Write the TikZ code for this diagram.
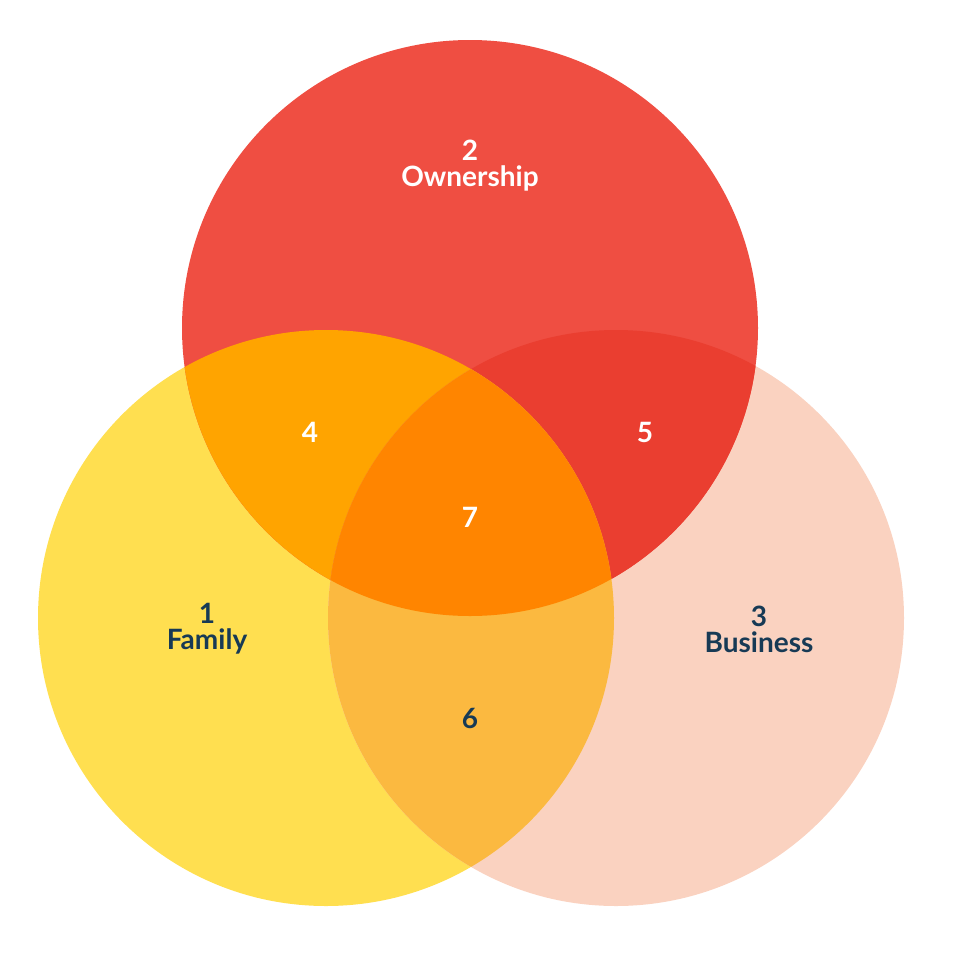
\documentclass[tikz,border=0pt]{standalone}
\usepackage{fontspec}
\setmainfont{Lato}
\definecolor{own}{HTML}{EF4E42}
\definecolor{fam}{HTML}{FFDF50}
\definecolor{bus}{HTML}{FAD2C0}
\definecolor{fo}{HTML}{FFA400}
\definecolor{ob}{HTML}{EA3E30}
\definecolor{fb}{HTML}{FBB940}
\definecolor{all}{HTML}{FF8500}
\definecolor{navy}{HTML}{173A55}
\begin{document}
\begin{tikzpicture}[x=1pt,y=-1pt,
  lbl/.style={font=\fontsize{28}{30}\selectfont\bfseries,align=center,text=white},
  dlbl/.style={lbl,text=navy}]
\useasboundingbox (0,0) rectangle (960,970);
\def\r{288}
\coordinate (O) at (470,328);
\coordinate (F) at (326,618);
\coordinate (B) at (616,618);
\fill[fam] (F) circle (\r);
\fill[bus] (B) circle (\r);
\fill[own] (O) circle (\r);
\begin{scope}\clip (F) circle (\r); \fill[fo] (O) circle (\r); \end{scope}
\begin{scope}\clip (B) circle (\r); \fill[ob] (O) circle (\r); \end{scope}
\begin{scope}\clip (F) circle (\r); \fill[fb] (B) circle (\r); \end{scope}
\begin{scope}\clip (F) circle (\r); \clip (B) circle (\r); \fill[all] (O) circle (\r); \end{scope}
\node[lbl] (n2) at (470,166) {2\\[-4pt]Ownership};
\node[lbl] (n4) at (310,432) {4};
\node[lbl] (n5) at (645,432) {5};
\node[lbl] (n7) at (470,517) {7};
\node[dlbl] (n1) at (207,629) {1\\[-4pt]Family};
\node[dlbl] (n3) at (759,629) {3\\[-4pt]Business};
\node[dlbl] (n6) at (470,718) {6};
\end{tikzpicture}
\end{document}
